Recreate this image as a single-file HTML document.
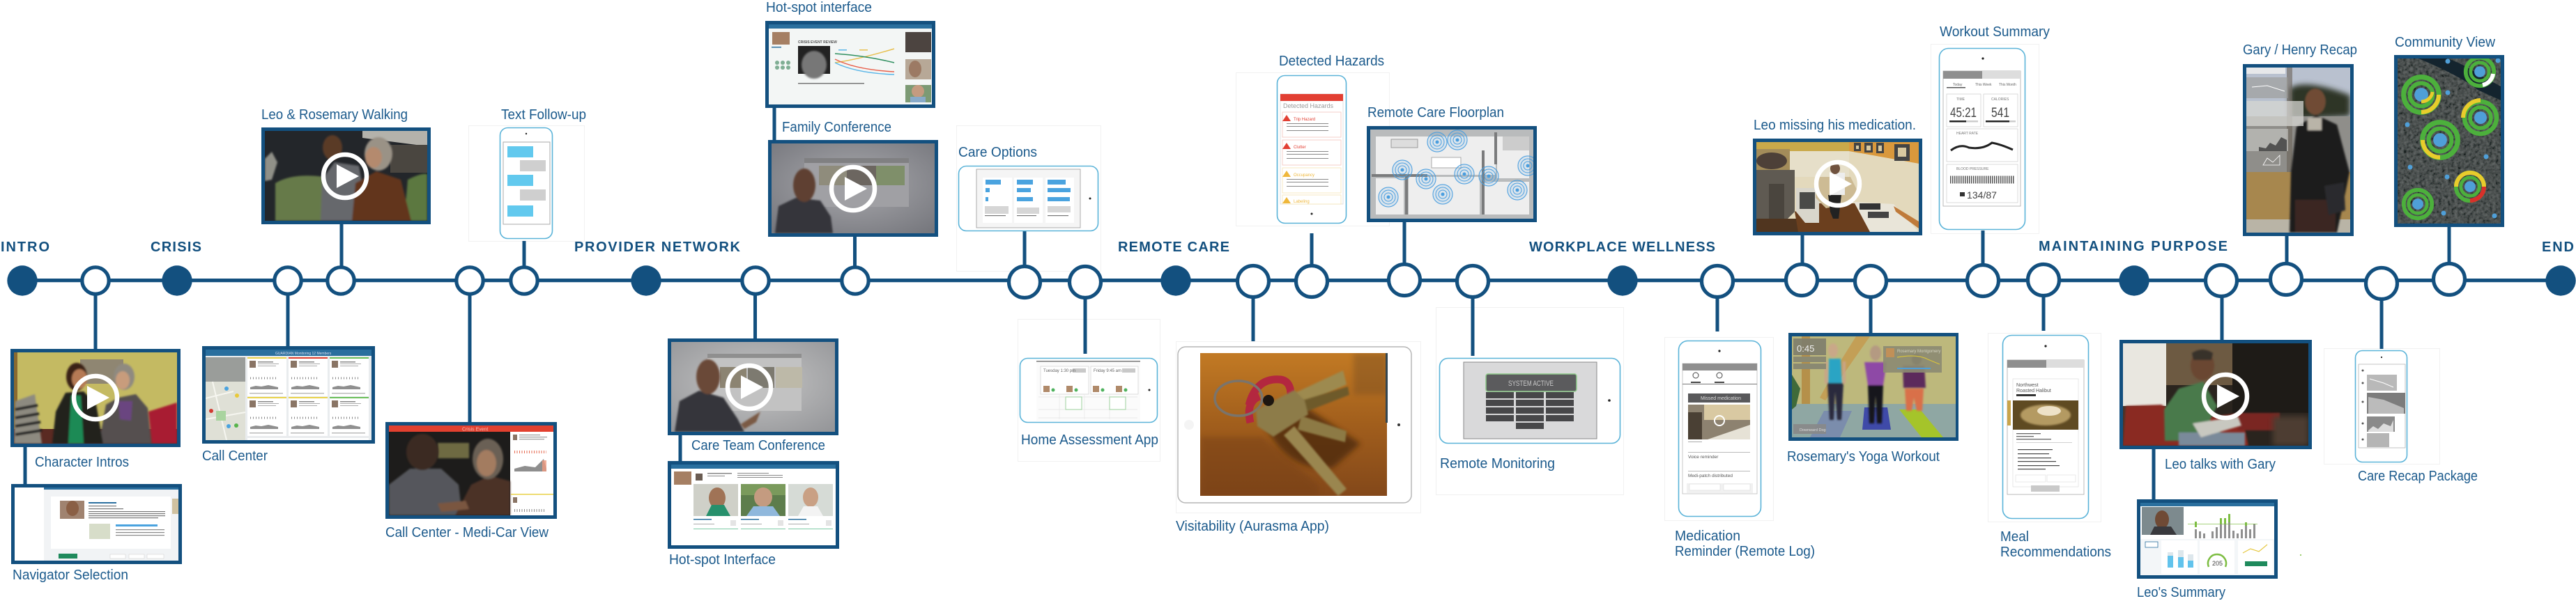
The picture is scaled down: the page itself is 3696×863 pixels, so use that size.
<!DOCTYPE html>
<html><head><meta charset="utf-8"><title>Timeline</title>
<style>
html,body{margin:0;padding:0;background:#fff;width:3696px;height:863px;overflow:hidden}
svg{display:block}
.l{font:20px "Liberation Sans",sans-serif;fill:#1b5a8c}
.h{font:bold 20px "Liberation Sans",sans-serif;fill:#13507f}
.t{font-family:"Liberation Sans",sans-serif}
</style></head><body>
<svg xmlns="http://www.w3.org/2000/svg" width="3696" height="863" viewBox="0 0 3696 863">
<defs>
<filter id="b1" x="-20%" y="-20%" width="140%" height="140%"><feGaussianBlur stdDeviation="1.2"/></filter>
<filter id="b3" x="-30%" y="-30%" width="160%" height="160%"><feGaussianBlur stdDeviation="4"/></filter>
<filter id="sat" x="0" y="0" width="100%" height="100%"><feTurbulence type="fractalNoise" baseFrequency=".22" numOctaves="3" seed="4"/><feColorMatrix type="matrix" values="1.4 0 0 0 -.28  1.4 0 0 0 -.26  1.4 0 0 0 -.26  0 0 0 0 1"/></filter>
<radialGradient id="gv" cx="50%" cy="45%" r="70%"><stop offset="0" stop-color="#a9a9ad"/><stop offset="1" stop-color="#77787e"/></radialGradient>
<radialGradient id="gv2" cx="50%" cy="45%" r="70%"><stop offset="0" stop-color="#c6c6c6"/><stop offset="1" stop-color="#96979a"/></radialGradient>
<linearGradient id="wood" x1="0" y1="0" x2="0" y2="1"><stop offset="0" stop-color="#c27a24"/><stop offset=".5" stop-color="#a15e1c"/><stop offset="1" stop-color="#83481a"/></linearGradient>
<g id="play"><circle r="31" fill="none" stroke="#fff" stroke-width="6.5"/><path d="M-12,-17 L20,0 L-12,17Z" fill="#fff"/></g>
<g id="card">
<rect width="56" height="54" fill="#fff"/>
<rect x="3" y="3" width="9" height="10" fill="#8a7565"/>
<rect x="15" y="4" width="22" height="1.5" fill="#888"/><rect x="15" y="7" width="30" height="1" fill="#aaa"/><rect x="15" y="10" width="26" height="1" fill="#aaa"/>
<path d="M4,28 H44" stroke="#888" stroke-width="3" stroke-dasharray="1 3"/>
<path d="M4,41 L12,39 L20,40 L30,38 L44,41 L44,44 L4,44Z" fill="#8f8f8f"/>
<rect x="3" y="49" width="48" height="1.5" fill="#bbb"/>
</g>
<g id="rings"><circle r="23" fill="none" stroke="#4cb03c" stroke-width="6.5"/><circle r="15" fill="none" stroke="#4cb03c" stroke-width="5.5"/><circle r="9" fill="#4f9fd8"/></g>
<g id="sp"><circle r="14" fill="none" stroke="#4a9fe0" stroke-width="1"/><circle r="10" fill="none" stroke="#4a9fe0" stroke-width="1"/><circle r="6" fill="none" stroke="#4a9fe0" stroke-width="1"/><circle r="2.5" fill="#4a9fe0"/><circle r="15" fill="#4a9fe0" opacity=".12"/></g>
</defs>

<!-- faint boxes -->
<g fill="none" stroke="#f1f1f1" stroke-width="1">
<rect x="672.5" y="180.5" width="166" height="166"/>
<rect x="1372.5" y="180.5" width="207" height="209"/>
<rect x="1460.5" y="458.5" width="204" height="204"/>
<rect x="1687.5" y="490.5" width="351" height="246"/>
<rect x="1773.5" y="104.5" width="220" height="220"/>
<rect x="2060.5" y="441.5" width="269" height="269"/>
<rect x="2388.5" y="484.5" width="156" height="263"/>
<rect x="2770.5" y="63.5" width="155" height="272"/>
<rect x="2852.5" y="478.5" width="162" height="271"/>
<rect x="3334.5" y="500.5" width="166" height="166"/>
</g>

<!-- timeline line and connectors -->
<g fill="#13507f">
<rect x="32" y="400" width="3630" height="5.2"/>
<rect x="134.5" y="403" width="5" height="100"/>
<rect x="33.5" y="640" width="5" height="57"/>
<rect x="410.5" y="403" width="5" height="96"/>
<rect x="487.5" y="320" width="5" height="85"/>
<rect x="671.5" y="403" width="5" height="205"/>
<rect x="749.5" y="346" width="5" height="57"/>
<rect x="1081" y="403" width="5" height="85"/>
<rect x="973.5" y="623" width="5" height="41"/>
<rect x="1224" y="338" width="5" height="65"/>
<rect x="1108.5" y="153" width="5" height="50"/>
<rect x="1467.5" y="332" width="5" height="71"/>
<rect x="1554.5" y="403" width="5" height="105"/>
<rect x="1795.5" y="403" width="5" height="87"/>
<rect x="1879.5" y="335" width="5" height="68"/>
<rect x="2012.5" y="317" width="5" height="86"/>
<rect x="2110.5" y="403" width="5" height="108"/>
<rect x="2461.5" y="403" width="5" height="73"/>
<rect x="2583.5" y="336" width="5" height="67"/>
<rect x="2681.5" y="403" width="5" height="78"/>
<rect x="2842.5" y="331" width="5" height="72"/>
<rect x="2929.5" y="403" width="5" height="72"/>
<rect x="3185.5" y="403" width="5" height="87"/>
<rect x="3087.5" y="643" width="5" height="76"/>
<rect x="3278.5" y="337" width="5" height="66"/>
<rect x="3511.5" y="324" width="5" height="79"/>
<rect x="3414.5" y="403" width="5" height="98"/>
</g>

<!-- nodes -->
<g fill="#13507f">
<circle cx="32" cy="403" r="21.7"/><circle cx="254" cy="403" r="21.7"/><circle cx="927" cy="403" r="21.7"/><circle cx="1687" cy="403" r="21.7"/><circle cx="2328" cy="403" r="21.7"/><circle cx="3062" cy="403" r="21.7"/><circle cx="3674" cy="403" r="21.7"/>
</g>
<g fill="#fff" stroke="#13507f" stroke-width="5.2">
<circle cx="137" cy="403" r="19.2"/><circle cx="413" cy="403" r="19.2"/><circle cx="489" cy="403" r="19.2"/><circle cx="674" cy="403" r="19.2"/><circle cx="752" cy="403" r="19.2"/><circle cx="1084" cy="403" r="19.2"/><circle cx="1227" cy="403" r="19.2"/>
<circle cx="1470" cy="405" r="22.5"/><circle cx="1557" cy="405" r="22.5"/><circle cx="1798" cy="404" r="22.5"/><circle cx="1882" cy="404" r="22.5"/><circle cx="2015" cy="402" r="22.5"/><circle cx="2113" cy="404" r="22.5"/><circle cx="2464" cy="404" r="22.5"/><circle cx="2585" cy="402" r="22.5"/><circle cx="2684" cy="404" r="22.5"/><circle cx="2845" cy="403" r="22.5"/><circle cx="2932" cy="402" r="22.5"/><circle cx="3187" cy="403" r="22.5"/><circle cx="3280" cy="401" r="22.5"/><circle cx="3417" cy="407" r="22.5"/><circle cx="3514" cy="401" r="22.5"/>
</g>

<!-- section headings -->
<text class="h" x="1" y="361" textLength="70" lengthAdjust="spacing">INTRO</text>
<text class="h" x="216" y="361" textLength="73" lengthAdjust="spacing">CRISIS</text>
<text class="h" x="824" y="361" textLength="238" lengthAdjust="spacing">PROVIDER NETWORK</text>
<text class="h" x="1604" y="361" textLength="160" lengthAdjust="spacing">REMOTE CARE</text>
<text class="h" x="2194" y="361" textLength="267" lengthAdjust="spacing">WORKPLACE WELLNESS</text>
<text class="h" x="2925" y="360" textLength="271" lengthAdjust="spacing">MAINTAINING PURPOSE</text>
<text class="h" x="3647" y="361" textLength="46" lengthAdjust="spacing">END</text>

<!-- labels -->
<g class="l">
<text class="l" x="375" y="171" textLength="210" lengthAdjust="spacingAndGlyphs">Leo &amp; Rosemary Walking</text>
<text class="l" x="719" y="171" textLength="122" lengthAdjust="spacingAndGlyphs">Text Follow-up</text>
<text class="l" x="50" y="670" textLength="135" lengthAdjust="spacingAndGlyphs">Character Intros</text>
<text class="l" x="18" y="832" textLength="166" lengthAdjust="spacingAndGlyphs">Navigator Selection</text>
<text class="l" x="290" y="661" textLength="94" lengthAdjust="spacingAndGlyphs">Call Center</text>
<text class="l" x="553" y="771" textLength="234" lengthAdjust="spacingAndGlyphs">Call Center - Medi-Car View</text>
<text class="l" x="1099" y="17" textLength="152" lengthAdjust="spacingAndGlyphs">Hot-spot interface</text>
<text class="l" x="1122" y="189" textLength="157" lengthAdjust="spacingAndGlyphs">Family Conference</text>
<text class="l" x="1375" y="225" textLength="113" lengthAdjust="spacingAndGlyphs">Care Options</text>
<text class="l" x="992" y="646" textLength="192" lengthAdjust="spacingAndGlyphs">Care Team Conference</text>
<text class="l" x="960" y="810" textLength="153" lengthAdjust="spacingAndGlyphs">Hot-spot Interface</text>
<text class="l" x="1465" y="638" textLength="197" lengthAdjust="spacingAndGlyphs">Home Assessment App</text>
<text class="l" x="1687" y="762" textLength="220" lengthAdjust="spacingAndGlyphs">Visitability (Aurasma App)</text>
<text class="l" x="1835" y="94" textLength="151" lengthAdjust="spacingAndGlyphs">Detected Hazards</text>
<text class="l" x="1962" y="168" textLength="196" lengthAdjust="spacingAndGlyphs">Remote Care Floorplan</text>
<text class="l" x="2066" y="672" textLength="165" lengthAdjust="spacingAndGlyphs">Remote Monitoring</text>
<text class="l" x="2403" y="776" textLength="94" lengthAdjust="spacingAndGlyphs">Medication</text>
<text class="l" x="2403" y="798" textLength="201" lengthAdjust="spacingAndGlyphs">Reminder (Remote Log)</text>
<text class="l" x="2564" y="662" textLength="219" lengthAdjust="spacingAndGlyphs">Rosemary's Yoga Workout</text>
<text class="l" x="2516" y="186" textLength="233" lengthAdjust="spacingAndGlyphs">Leo missing his medication.</text>
<text class="l" x="2783" y="52" textLength="158" lengthAdjust="spacingAndGlyphs">Workout Summary</text>
<text class="l" x="2870" y="777" textLength="41" lengthAdjust="spacingAndGlyphs">Meal</text>
<text class="l" x="2870" y="799" textLength="159" lengthAdjust="spacingAndGlyphs">Recommendations</text>
<text class="l" x="3106" y="673" textLength="159" lengthAdjust="spacingAndGlyphs">Leo talks with Gary</text>
<text class="l" x="3066" y="857" textLength="127" lengthAdjust="spacingAndGlyphs">Leo's Summary</text>
<text class="l" x="3218" y="78" textLength="164" lengthAdjust="spacingAndGlyphs">Gary / Henry Recap</text>
<text class="l" x="3436" y="67" textLength="144" lengthAdjust="spacingAndGlyphs">Community View</text>
<text class="l" x="3383" y="690" textLength="172" lengthAdjust="spacingAndGlyphs">Care Recap Package</text>
</g>

<!-- Character Intros -->
<rect x="15" y="501" width="244" height="141" fill="#13507f"/>
<svg x="20" y="506" width="234" height="131" viewBox="0 0 234 131">
<rect width="234" height="131" fill="#c4ba62"/>
<rect width="5" height="131" fill="#8a6a30"/>
<rect x="95" y="10" width="62" height="35" fill="#8f8672"/>
<rect y="110" width="234" height="21" fill="#5a2a22"/>
<g filter="url(#b1)">
<path d="M150,131 L122,131 L132,75 L150,65 L175,60 L192,80 L197,131Z" fill="#54504f"/>
<path d="M150,70 L170,70 L168,98 L152,96Z" fill="#6b4480"/>
<path d="M55,131 L60,85 L74,58 L100,56 L118,75 L128,131Z" fill="#22201f"/>
<path d="M82,62 L96,62 L100,131 L78,131Z" fill="#1f8a55"/>
<ellipse cx="90" cy="35" rx="15" ry="20" fill="#3a2015"/>
<ellipse cx="94" cy="38" rx="11" ry="14" fill="#b57a55"/>
<ellipse cx="158" cy="35" rx="15" ry="19" fill="#8f8a80"/>
<ellipse cx="156" cy="40" rx="10" ry="13" fill="#c89c7c"/>
<path d="M193,85 L234,72 L234,131 L198,131Z" fill="#a81c30"/>
<path d="M2,70 L30,60 L40,131 L0,131Z" fill="#8d8a80"/>
<path d="M2,82 L34,76 M2,94 L36,88 M2,106 L38,100 M2,118 L40,112" stroke="#1a1a1a" stroke-width="4"/>
</g>
<use href="#play" x="117" y="65"/>
</svg>

<!-- Navigator Selection -->
<rect x="16" y="695" width="245" height="115" fill="#13507f"/>
<svg x="21" y="700" width="235" height="105" viewBox="0 0 235 105">
<rect width="235" height="105" fill="#f1f3f5"/>
<rect width="235" height="3" fill="#2b6f9f"/>
<rect x="0" y="0" width="42" height="105" fill="#fff"/>
<rect x="52" y="13" width="172" height="75" fill="#fff"/>
<rect x="65" y="19" width="35" height="26" fill="#a08370"/><ellipse cx="83" cy="30" rx="9" ry="11" fill="#8a5f45"/>
<rect x="106" y="21" width="40" height="2" fill="#2b6f9f"/>
<g fill="#777"><rect x="106" y="26" width="40" height="1.2"/><rect x="106" y="30" width="50" height="1.2"/><rect x="106" y="34" width="110" height="1.2"/><rect x="106" y="37" width="110" height="1.2"/><rect x="106" y="40" width="110" height="1.2"/><rect x="106" y="43" width="100" height="1.2"/></g>
<rect x="107" y="52" width="30" height="22" fill="#d7ddc9"/>
<rect x="145" y="53" width="60" height="3" fill="#4aa3df"/>
<rect x="145" y="60" width="70" height="1.2" fill="#888"/><rect x="145" y="64" width="70" height="1.2" fill="#888"/><rect x="145" y="68" width="70" height="1.2" fill="#888"/>
<rect x="226" y="16" width="9" height="22" fill="#cfc1a0"/>
<rect x="63" y="95" width="27" height="7" fill="#1f8a5c"/>
<rect x="137" y="96" width="22" height="6" fill="#fff" stroke="#ccc" stroke-width=".5"/><rect x="164" y="96" width="22" height="6" fill="#fff" stroke="#ccc" stroke-width=".5"/><rect x="190" y="96" width="24" height="6" fill="#fff" stroke="#ccc" stroke-width=".5"/>
</svg>

<!-- Leo & Rosemary Walking -->
<rect x="375" y="183" width="243" height="139" fill="#13507f"/>
<svg x="380" y="188" width="233" height="129" viewBox="0 0 233 129">
<rect width="233" height="129" fill="#23262a"/>
<path d="M140,0 H233 V22 L140,10Z" fill="#b4b2ab"/>
<rect x="180" y="20" width="53" height="40" fill="#4a4640"/>
<g filter="url(#b1)">
<path d="M15,129 V75 Q40,60 85,66 L85,129Z" fill="#667a48"/>
<path d="M205,70 Q225,60 233,62 V129 H200Z" fill="#5c7840"/>
<path d="M0,40 L10,30 L18,45 L10,70 L0,72Z" fill="#909088"/>
<path d="M80,129 L82,70 L100,45 L135,50 L142,90 L135,129Z" fill="#66676c"/>
<ellipse cx="97" cy="24" rx="14" ry="18" fill="#5a3a28"/>
<path d="M125,129 L130,75 L160,58 L195,70 L210,129Z" fill="#62341f"/>
<ellipse cx="163" cy="33" rx="20" ry="24" fill="#9a9286"/>
<ellipse cx="156" cy="38" rx="12" ry="15" fill="#b48a6e"/>
</g>
<use href="#play" x="115" y="65"/>
</svg>

<!-- Text Follow-up phone -->
<rect x="717.5" y="183.5" width="75" height="159" rx="11" fill="#fff" stroke="#5ab3d8" stroke-width="1.6"/>
<circle cx="755" cy="192" r="1.2" fill="#222"/>
<rect x="722" y="204" width="67" height="118" fill="#fff" stroke="#aaa" stroke-width="1"/>
<g fill="#62c9ee"><rect x="728" y="210" width="37" height="16"/><rect x="728" y="251" width="37" height="16"/><rect x="728" y="295" width="37" height="16"/></g>
<g fill="#cfcfcf"><rect x="746" y="230" width="37" height="16"/><rect x="746" y="272" width="37" height="16"/></g>

<!-- Call Center -->
<rect x="290" y="497" width="248" height="140" fill="#13507f"/>
<svg x="295" y="502" width="238" height="130" viewBox="0 0 238 130">
<rect width="238" height="130" fill="#e9ecee"/>
<rect width="238" height="9" fill="#2a6f9e"/>
<text class="t" x="100" y="7" font-size="5" fill="#dde">GUARDIAN  Monitoring 12 Members</text>
<rect x="0" y="11" width="57" height="35" fill="#9a9d9a"/>
<rect x="0" y="46" width="57" height="84" fill="#dfe0d6"/>
<path d="M0,70 L40,60 M10,46 L30,130 M0,100 L57,90" stroke="#f6f6f0" stroke-width="2"/>
<rect x="15" y="88" width="14" height="14" fill="#a9d49f"/>
<circle cx="30" cy="56" r="3" fill="#4aa3df"/><circle cx="45" cy="66" r="3" fill="#e8c93a"/><circle cx="8" cy="88" r="3" fill="#d23a30"/><circle cx="33" cy="110" r="3" fill="#4aa3df"/><circle cx="44" cy="109" r="3" fill="#57b44b"/>
<use href="#card" x="60" y="13"/><use href="#card" x="119" y="13"/><use href="#card" x="178" y="13"/>
<use href="#card" x="60" y="70"/><use href="#card" x="119" y="70"/><use href="#card" x="178" y="70"/>
<rect x="60" y="11" width="56" height="2" fill="#e9d24a"/><rect x="119" y="11" width="56" height="2" fill="#e2402f"/><rect x="178" y="11" width="56" height="2" fill="#6bbf59"/>
<rect x="60" y="68" width="56" height="2" fill="#e9d24a"/><rect x="119" y="68" width="56" height="2" fill="#e9d24a"/><rect x="178" y="68" width="56" height="2" fill="#6bbf59"/>
<rect x="60" y="127" width="174" height="3" fill="#fff"/>
</svg>

<!-- Medi-Car -->
<rect x="553" y="606" width="246" height="139" fill="#13507f"/>
<svg x="558" y="611" width="236" height="129" viewBox="0 0 236 129">
<rect width="236" height="129" fill="#fff"/>
<rect width="236" height="9" fill="#e2402f"/>
<text class="t" x="105" y="7.5" font-size="7" fill="#f5c0b8">Crisis Event</text>
<rect y="9" width="174" height="120" fill="#1d1c1b"/>
<rect x="70" y="25" width="45" height="22" fill="#6e6a42" filter="url(#b1)"/>
<g filter="url(#b1)">
<path d="M0,129 L0,85 L30,62 L75,62 L100,85 L105,129Z" fill="#55565b"/>
<ellipse cx="48" cy="38" rx="23" ry="26" fill="#3a2a22"/>
<path d="M95,129 L118,85 L145,72 L174,80 L174,129Z" fill="#4c3027"/>
<ellipse cx="142" cy="48" rx="22" ry="29" fill="#6a6054"/>
<ellipse cx="140" cy="54" rx="14" ry="19" fill="#a37b60"/>
<path d="M70,112 L110,108 L115,120 L75,124Z" fill="#7a5640"/>
</g>
<rect x="178" y="13" width="6" height="8" fill="#8a7565"/>
<g fill="#999"><rect x="187" y="13" width="30" height="1.2"/><rect x="187" y="16" width="40" height="1.2"/><rect x="187" y="19" width="36" height="1.2"/></g>
<path d="M180,38 H226" stroke="#e66a50" stroke-width="4" stroke-dasharray="1 2.5"/>
<path d="M180,62 L195,58 L210,60 L222,48 L226,62 V66 H180Z" fill="#8e8e8e"/>
<rect x="220" y="50" width="6" height="16" fill="#ef9a80" opacity=".8"/>
<rect x="175" y="98" width="61" height="1.5" fill="#e9d24a"/>
<rect x="178" y="103" width="6" height="8" fill="#8a7565"/>
<path d="M180,122 H224" stroke="#888" stroke-width="4" stroke-dasharray="1 2.5"/>
</svg>

<!-- Hot-spot interface (top) -->
<rect x="1098" y="30" width="244" height="125" fill="#13507f"/>
<svg x="1103" y="35" width="234" height="115" viewBox="0 0 234 115">
<rect width="234" height="115" fill="#f3f6f5"/>
<rect width="234" height="6" fill="#2a6f9e"/>
<rect x="5" y="11" width="25" height="18" fill="#a57f63"/>
<rect x="42" y="31" width="46" height="40" fill="#222"/>
<ellipse cx="65" cy="58" rx="18" ry="20" fill="#777" filter="url(#b1)"/>
<text class="t" x="42" y="27" font-size="5" fill="#555" font-weight="bold">CRISIS EVENT REVIEW</text>
<path d="M95,55 Q130,50 180,35" fill="none" stroke="#e8c050" stroke-width="1.5"/>
<path d="M95,42 Q140,45 180,55" fill="none" stroke="#2f8f5f" stroke-width="1.5"/>
<path d="M95,50 Q125,65 180,68" fill="none" stroke="#e8604c" stroke-width="1.5"/>
<path d="M95,55 Q125,70 180,72" fill="none" stroke="#59b6e8" stroke-width="1.5"/>
<rect x="100" y="36" width="12" height="1.5" fill="#59b6e8"/><rect x="130" y="36" width="12" height="1.5" fill="#e8c050"/>
<rect x="42" y="84" width="95" height="1.5" fill="#777"/>
<g fill="#7fae94"><circle cx="12" cy="55" r="3"/><circle cx="20" cy="55" r="3"/><circle cx="28" cy="55" r="3"/><circle cx="12" cy="62" r="3"/><circle cx="20" cy="62" r="3"/><circle cx="28" cy="62" r="3"/></g>
<rect x="4" y="32" width="14" height="1.5" fill="#2a6f9e"/>
<rect x="196" y="11" width="37" height="29" fill="#4c4440"/>
<rect x="196" y="50" width="37" height="29" fill="#b7a897"/><ellipse cx="210" cy="64" rx="9" ry="12" fill="#9c7a64"/>
<rect x="196" y="87" width="37" height="25" fill="#7c9a74"/><ellipse cx="214" cy="96" rx="9" ry="9" fill="#c49b80"/><rect x="203" y="104" width="22" height="8" fill="#88aac9"/>
</svg>

<!-- Family Conference -->
<rect x="1102" y="201" width="244" height="139" fill="#13507f"/>
<svg x="1107" y="206" width="234" height="129" viewBox="0 0 234 129">
<rect width="234" height="129" fill="url(#gv)"/>
<rect x="47" y="21" width="150" height="70" fill="#a0a0a4"/>
<rect x="47" y="21" width="150" height="7" fill="#808082"/>
<rect x="68" y="32" width="40" height="28" fill="#8f8c7c"/><rect x="108" y="32" width="42" height="28" fill="#6c6660"/><rect x="150" y="32" width="41" height="28" fill="#7f8f6a"/>
<g filter="url(#b1)">
<path d="M5,129 L10,90 L35,78 L70,82 L85,105 L88,129Z" fill="#35353a"/>
<ellipse cx="47" cy="60" rx="16" ry="24" fill="#5e4030"/>
</g>
<use href="#play" x="117" y="65"/>
</svg>

<!-- Care Options phone -->
<rect x="1375.5" y="238.5" width="200" height="93" rx="11" fill="#fff" stroke="#5ab3d8" stroke-width="1.6"/>
<rect x="1401" y="243" width="149" height="84" fill="#f5f5f5" stroke="#999" stroke-width=".8"/>
<circle cx="1564" cy="285" r="1.5" fill="#222"/>
<g fill="#fff"><rect x="1410" y="255" width="42" height="65"/><rect x="1455" y="255" width="41" height="65"/><rect x="1500" y="255" width="41" height="65"/></g>
<g fill="#4aa3df"><rect x="1414" y="258" width="22" height="7"/><rect x="1414" y="270" width="6" height="6"/><rect x="1414" y="283" width="4" height="6"/>
<rect x="1459" y="258" width="23" height="7"/><rect x="1459" y="270" width="20" height="6"/><rect x="1459" y="283" width="23" height="6"/>
<rect x="1503" y="258" width="26" height="7"/><rect x="1503" y="270" width="33" height="6"/><rect x="1503" y="283" width="32" height="6"/></g>
<g fill="#d6d6d6"><rect x="1413" y="296" width="34" height="11"/><rect x="1459" y="298" width="32" height="9"/><rect x="1503" y="296" width="33" height="9"/></g>
<g fill="#777"><rect x="1413" y="309" width="30" height="1.2"/><rect x="1459" y="309" width="28" height="1.2"/><rect x="1503" y="309" width="30" height="1.2"/></g>

<!-- Care Team Conference -->
<rect x="958" y="486" width="245" height="139" fill="#13507f"/>
<svg x="963" y="491" width="235" height="129" viewBox="0 0 235 129">
<rect width="235" height="129" fill="url(#gv2)"/>
<rect x="52" y="17" width="135" height="82" fill="#c2c2c2"/>
<rect x="52" y="17" width="135" height="6" fill="#8f8f8f"/>
<rect x="70" y="36" width="38" height="30" fill="#8c8472"/><rect x="110" y="36" width="38" height="30" fill="#7d7a70"/><rect x="150" y="36" width="38" height="30" fill="#bdb9a8"/>
<g filter="url(#b1)">
<path d="M5,129 L12,85 L40,70 L75,80 L95,110 L105,129Z" fill="#36363a"/>
<ellipse cx="53" cy="50" rx="17" ry="25" fill="#6a4a38"/>
<path d="M100,118 L128,100 L122,115 L105,125Z" fill="#7a5a45"/>
</g>
<use href="#play" x="112" y="65"/>
</svg>

<!-- Hot-spot Interface (bottom) -->
<rect x="958" y="662" width="246" height="126" fill="#13507f"/>
<svg x="963" y="667" width="236" height="116" viewBox="0 0 236 116">
<rect width="236" height="116" fill="#fff"/>
<rect width="236" height="6" fill="#2a6f9e"/>
<rect x="4" y="10" width="25" height="19" fill="#a57f63"/>
<rect x="35" y="13" width="10" height="10" fill="#6a5c52"/>
<g fill="#888"><rect x="52" y="12" width="35" height="1.5"/><rect x="52" y="16" width="25" height="1"/><rect x="95" y="12" width="45" height="1"/><rect x="95" y="15" width="65" height="1"/><rect x="95" y="18" width="65" height="1"/></g>
<rect x="32" y="28" width="64" height="46" fill="#cfd0c8"/><ellipse cx="66" cy="48" rx="12" ry="15" fill="#a07356"/><path d="M50,74 L58,58 L76,58 L85,74Z" fill="#27906c"/>
<rect x="100" y="28" width="64" height="46" fill="#5d7d4c"/><rect x="100" y="28" width="64" height="16" fill="#7a9a5c"/><ellipse cx="132" cy="47" rx="13" ry="14" fill="#c49b80"/><path d="M108,74 L118,60 L146,60 L156,74Z" fill="#90b8dc"/>
<rect x="168" y="28" width="64" height="46" fill="#d6dbd6"/><ellipse cx="200" cy="47" rx="11" ry="14" fill="#c9a084"/><path d="M182,74 L190,60 L210,60 L218,74Z" fill="#f3f3f3"/>
<g fill="#2a6f9e"><rect x="32" y="78" width="26" height="1.5"/><rect x="100" y="78" width="26" height="1.5"/><rect x="168" y="78" width="26" height="1.5"/></g>
<g fill="#aaa"><rect x="32" y="85" width="30" height="1"/><rect x="100" y="85" width="30" height="1"/><rect x="168" y="85" width="30" height="1"/></g>
<g fill="#e4e4e4"><rect x="85" y="80" width="8" height="8"/><rect x="153" y="80" width="8" height="8"/><rect x="222" y="80" width="8" height="8"/></g>
<g fill="#7cc9a4"><rect x="32" y="92" width="64" height="1"/><rect x="100" y="92" width="64" height="1"/><rect x="168" y="92" width="64" height="1"/></g>
</svg>

<!-- Home Assessment phone -->
<rect x="1463.5" y="514.5" width="197" height="92" rx="11" fill="#fff" stroke="#5ab3d8" stroke-width="1.6"/>
<circle cx="1649" cy="560" r="1.5" fill="#222"/>
<rect x="1487" y="518" width="149" height="86" fill="#fbfbfb"/>
<rect x="1487" y="518" width="149" height="1.5" fill="#777"/>
<g fill="#fff" stroke="#d0d0d0" stroke-width=".7"><rect x="1493" y="526" width="69" height="40"/><rect x="1565" y="526" width="68" height="40"/></g>
<g fill="#c9c9c9"><rect x="1539" y="529" width="19" height="6"/><rect x="1610" y="529" width="19" height="6"/></g>
<text class="t" x="1497" y="534" font-size="6" fill="#666">Tuesday  1:30 pm</text>
<text class="t" x="1569" y="534" font-size="6" fill="#666">Friday  9:45 am</text>
<g fill="#b08a6a"><rect x="1497" y="554" width="9" height="9"/><rect x="1530" y="554" width="9" height="9"/><rect x="1568" y="554" width="9" height="9"/><rect x="1601" y="554" width="9" height="9"/></g>
<g fill="#4fb25e"><circle cx="1511" cy="560" r="2.5"/><circle cx="1544" cy="560" r="2.5"/><circle cx="1582" cy="560" r="2.5"/><circle cx="1615" cy="560" r="2.5"/></g>
<g stroke="#e5e5e5" stroke-width=".7" fill="none"><path d="M1490,570 H1632 M1490,588 H1632 M1490,600 H1632 M1520,566 V602 M1556,566 V602 M1592,566 V602"/></g>
<g fill="#fff" stroke="#9cd29c" stroke-width="1"><rect x="1529" y="570" width="23" height="18"/><rect x="1592" y="570" width="23" height="18"/></g>

<!-- iPad keys -->
<rect x="1690" y="498" width="335" height="224" rx="11" fill="#fff" stroke="#b5b5b5" stroke-width="1.5"/>
<circle cx="2007" cy="610" r="2" fill="#333"/>
<circle cx="1706" cy="610" r="7" fill="#f4f4f4"/>
<svg x="1722" y="507" width="268" height="205" viewBox="0 0 268 205">
<rect width="268" height="205" fill="url(#wood)"/>
<path d="M0,120 L90,120 L170,190 L170,205 L0,205Z" fill="#774015" opacity=".5" filter="url(#b3)"/>
<path d="M90,95 Q120,170 190,165 L230,130 L140,70Z" fill="#4d2a0c" opacity=".8" filter="url(#b3)"/>
<rect x="220" y="0" width="48" height="60" fill="#7a5024" opacity=".45" filter="url(#b3)"/>
<path d="M130,60 L205,25 L210,45 L145,75Z" fill="#9d8a50" filter="url(#b1)"/>
<path d="M140,70 L212,48 L214,60 L150,85Z" fill="#6e5a2a" filter="url(#b1)"/>
<path d="M145,90 L210,112 L208,128 L140,110Z" fill="#8d7a44" filter="url(#b1)"/>
<path d="M70,75 Q80,35 115,38 Q130,40 130,60" fill="none" stroke="#b3273f" stroke-width="11"/>
<path d="M72,100 Q65,70 85,62" fill="none" stroke="#b3273f" stroke-width="11"/>
<ellipse cx="55" cy="65" rx="34" ry="25" fill="none" stroke="#7a746c" stroke-width="3.5"/>
<path d="M80,82 L135,53 L150,68 L155,88 L105,120 L82,105Z" fill="#8d7c4a" filter="url(#b1)"/>
<circle cx="98" cy="68" r="8" fill="#1d1610"/>
<path d="M135,105 L210,195 L198,205 L120,118Z" fill="#9a8650" filter="url(#b1)"/>
</svg>
<rect x="1988" y="507" width="3" height="100" fill="#33454f"/>

<!-- Detected Hazards phone -->
<rect x="1832.5" y="108.5" width="99" height="212" rx="11" fill="#fff" stroke="#5ab3d8" stroke-width="1.6"/>
<circle cx="1882" cy="307" r="1.5" fill="#222"/>
<rect x="1837" y="135" width="90" height="158" fill="#fff" stroke="#ccc" stroke-width=".6"/>
<rect x="1837" y="135" width="90" height="10" fill="#e23f33"/>
<text class="t" x="1841" y="155" font-size="9" fill="#999" textLength="72" lengthAdjust="spacingAndGlyphs">Detected Hazards</text>
<g fill="#fff" stroke="#f4c4bd" stroke-width=".8"><rect x="1840" y="161" width="84" height="36"/><rect x="1840" y="201" width="84" height="36"/></g>
<g fill="#fff" stroke="#f6e3b5" stroke-width=".8"><rect x="1840" y="241" width="84" height="36"/><rect x="1840" y="280" width="84" height="13"/></g>
<path d="M1846,165 L1852,174 L1840,174Z" fill="#e23f33"/><path d="M1846,205 L1852,214 L1840,214Z" fill="#e23f33"/><path d="M1846,245 L1852,254 L1840,254Z" fill="#efb73a"/><path d="M1846,283 L1852,292 L1840,292Z" fill="#efb73a"/>
<text class="t" x="1856" y="173" font-size="6" fill="#e23f33">Trip Hazard</text>
<text class="t" x="1856" y="213" font-size="6" fill="#e23f33">Clutter</text>
<text class="t" x="1856" y="253" font-size="6" fill="#efb73a">Occupancy</text>
<text class="t" x="1856" y="291" font-size="6" fill="#efb73a">Labeling</text>
<g fill="#888"><rect x="1846" y="177" width="60" height="1"/><rect x="1846" y="181" width="60" height="1"/><rect x="1846" y="187" width="60" height="1"/><rect x="1846" y="217" width="60" height="1"/><rect x="1846" y="221" width="60" height="1"/><rect x="1846" y="227" width="60" height="1"/><rect x="1846" y="257" width="60" height="1"/><rect x="1846" y="261" width="60" height="1"/><rect x="1846" y="267" width="60" height="1"/></g>

<!-- Remote Care Floorplan -->
<rect x="1961" y="181" width="244" height="138" fill="#13507f"/>
<svg x="1966" y="186" width="234" height="128" viewBox="0 0 234 128">
<rect width="234" height="128" fill="#b9bbbc"/>
<g fill="#eeeeee"><rect x="8" y="10" width="172" height="55"/><rect x="182" y="10" width="46" height="60"/><rect x="8" y="70" width="40" height="52"/><rect x="55" y="68" width="102" height="54"/><rect x="162" y="75" width="66" height="47"/></g>
<g fill="#7a7b7c"><rect x="2" y="64" width="80" height="4"/><rect x="160" y="30" width="4" height="92"/><rect x="50" y="64" width="4" height="58"/><rect x="178" y="4" width="4" height="46"/></g>
<rect x="30" y="14" width="38" height="12" fill="#ddd" stroke="#999"/>
<rect x="88" y="40" width="42" height="15" fill="#fff" stroke="#aaa"/>
<rect x="190" y="10" width="38" height="20" fill="#ccc"/>
<use href="#sp" x="96" y="18"/><use href="#sp" x="125" y="15"/><use href="#sp" x="46" y="58"/><use href="#sp" x="80" y="71"/><use href="#sp" x="135" y="64"/><use href="#sp" x="170" y="67"/><use href="#sp" x="104" y="93"/><use href="#sp" x="211" y="87"/><use href="#sp" x="26" y="97"/><use href="#sp" x="226" y="52"/>
</svg>

<!-- Remote Monitoring phone -->
<rect x="2065.5" y="514.5" width="259" height="122" rx="12" fill="#fff" stroke="#5ab3d8" stroke-width="1.6"/>
<circle cx="2309" cy="575" r="1.8" fill="#222"/>
<rect x="2100" y="520" width="191" height="110" fill="#d9d9da" stroke="#888" stroke-width="1"/>
<rect x="2132" y="537" width="130" height="25" rx="3" fill="#5b5b5d" stroke="#8ec98a" stroke-width="1.5"/>
<text class="t" x="2164" y="554" font-size="11" fill="#c9c9c9" textLength="65" lengthAdjust="spacingAndGlyphs">SYSTEM ACTIVE</text>
<g fill="#474749">
<rect x="2132" y="563" width="40" height="9"/><rect x="2175" y="563" width="40" height="9"/><rect x="2218" y="563" width="40" height="9"/>
<rect x="2132" y="574" width="40" height="9"/><rect x="2175" y="574" width="40" height="9"/><rect x="2218" y="574" width="40" height="9"/>
<rect x="2132" y="585" width="40" height="9"/><rect x="2175" y="585" width="40" height="9"/><rect x="2218" y="585" width="40" height="9"/>
<rect x="2132" y="596" width="40" height="9"/><rect x="2175" y="596" width="40" height="9"/><rect x="2218" y="596" width="40" height="9"/>
<rect x="2175" y="607" width="40" height="9"/></g>

<!-- Medication phone -->
<rect x="2408.5" y="489.5" width="118" height="252" rx="13" fill="#fff" stroke="#5ab3d8" stroke-width="1.6"/>
<circle cx="2467" cy="504" r="1.6" fill="#222"/>
<rect x="2414" y="522" width="107" height="187" fill="#fff" stroke="#bbb" stroke-width=".8"/>
<rect x="2414" y="522" width="107" height="10" fill="#8f8f8f"/>
<rect x="2414" y="551" width="107" height="1" fill="#777"/>
<circle cx="2433" cy="539" r="4" fill="#fff" stroke="#444"/><circle cx="2467" cy="539" r="4" fill="#fff" stroke="#444"/><path d="M2426,549 H2440 M2460,549 H2474" stroke="#444" stroke-width="2"/>
<rect x="2422" y="565" width="89" height="13" fill="#59595b"/>
<text class="t" x="2440" y="574" font-size="7" fill="#ddd">Missed medication</text>
<rect x="2422" y="581" width="89" height="50" fill="#8d8270"/>
<rect x="2445" y="581" width="66" height="22" fill="#d9c9a2"/><path d="M2450,631 L2511,610 V631Z" fill="#e6e2d6"/><rect x="2422" y="592" width="20" height="39" fill="#4a4034"/>
<circle cx="2467" cy="604" r="7" fill="none" stroke="#fff" stroke-width="2"/>
<g fill="#aaa"><rect x="2422" y="634" width="20" height="1"/><rect x="2422" y="649" width="89" height=".8"/><rect x="2422" y="676" width="89" height=".8"/></g>
<text class="t" x="2422" y="658" font-size="6.5" fill="#555">Voice reminder</text>
<text class="t" x="2422" y="685" font-size="6.5" fill="#555">Medi-patch distributed</text>
<rect x="2420" y="694" width="95" height="14" fill="#f1f1f1"/>
<rect x="2424" y="695" width="44" height="9" fill="#fff" stroke="#ddd" stroke-width=".6"/><rect x="2473" y="695" width="38" height="9" fill="#fff" stroke="#ddd" stroke-width=".6"/>

<!-- Yoga -->
<rect x="2566" y="478" width="244" height="155" fill="#13507f"/>
<svg x="2571" y="483" width="235" height="145" viewBox="0 0 235 145">
<rect width="235" height="145" fill="#bdb87c"/>
<rect y="97" width="235" height="48" fill="#8fa7a3"/>
<path d="M62,48 L92,0 L112,0 L70,60 L48,92 L40,88Z" fill="#c49a50" opacity=".85"/>
<rect x="14" y="0" width="12" height="97" fill="#b5904a"/>
<path d="M0,55 L12,75 L6,100 L0,105Z" fill="#3f6a3a"/>
<path d="M46,107 L86,107 L69,145 L26,145Z" fill="#7b8dac"/>
<path d="M104,102 L137,102 L142,134 L101,134Z" fill="#3f4aa8"/>
<path d="M154,105 L184,105 L217,145 L186,145Z" fill="#a5c42a"/>
<g filter="url(#b1)">
<path d="M53,32 L70,32 L72,67 L52,67Z" fill="#2ba4c4"/>
<path d="M51,67 H74 L71,120 H65 L62,80 L60,120 H54Z" fill="#2a2c3e"/>
<rect x="47" y="36" width="4" height="32" fill="#c9a488"/><rect x="73" y="36" width="4" height="32" fill="#c9a488"/>
<ellipse cx="59" cy="20" rx="7" ry="10" fill="#c9a888"/>
<path d="M104,37 L136,37 L131,70 L109,70Z" fill="#8e49a6"/>
<path d="M109,70 H131 L129,125 H122 L120,85 L118,125 H111Z" fill="#17181e"/>
<ellipse cx="120" cy="24" rx="8" ry="11" fill="#b49a82"/>
<path d="M159,42 L190,42 L192,74 L160,74Z" fill="#5b2c5c"/>
<path d="M162,75 H189 L187,107 H179 L175,88 L172,107 H164Z" fill="#d9704a"/>
<ellipse cx="179" cy="33" rx="7" ry="8" fill="#493632"/>
</g>
<rect x="2" y="3" width="47" height="24" fill="#7f7e6c" opacity=".92"/>
<text class="t" x="7" y="22" font-size="13" fill="#eee">0:45</text>
<rect x="2" y="29" width="47" height="8" fill="#8a8972"/><rect x="2" y="39" width="47" height="8" fill="#8a8972"/>
<rect x="131" y="14" width="84" height="38" fill="#8c8a72" opacity=".92"/>
<rect x="135" y="17" width="12" height="13" fill="#c19058"/>
<text class="t" x="151" y="23" font-size="6" fill="#d4d3c0">Rosemary Montgomery</text>
<path d="M151,30 Q180,25 195,33 L212,40" fill="none" stroke="#d9c43a" stroke-width="1.2"/>
<rect x="151" y="45" width="48" height="2" fill="#4f9fd8"/>
<rect x="2" y="126" width="47" height="14" fill="#888" opacity=".9"/>
<text class="t" x="11" y="136" font-size="5.5" fill="#ddd">Downward Dog</text>
</svg>

<!-- Leo missing -->
<rect x="2515" y="199" width="243" height="139" fill="#13507f"/>
<svg x="2520" y="204" width="233" height="129" viewBox="0 0 233 129">
<rect width="233" height="129" fill="#e3d9bc"/>
<rect width="233" height="16" fill="#c9a94a"/>
<path d="M133,0 H233 V31 L133,13Z" fill="#d9983c"/>
<rect x="0" y="10" width="48" height="40" fill="#a38c5a"/>
<rect x="48" y="13" width="85" height="37" fill="#e6dfc9"/>
<path d="M133,13 L233,31 V96 L153,56 L133,33Z" fill="#e3d9bc"/>
<path d="M0,40 H55 V100 L40,115 H0Z" fill="#5f5a52"/>
<rect x="18" y="60" width="22" height="50" fill="#4a453e"/>
<ellipse cx="22" cy="27" rx="22" ry="12" fill="#4d4038"/>
<rect x="0" y="110" width="60" height="19" fill="#50351f"/>
<path d="M55,100 L85,88 L150,88 L165,129 H60Z" fill="#6b3f1e"/>
<path d="M57,66 H90 V116 H70 L57,100Z" fill="#d9d6cc"/><rect x="62" y="72" width="22" height="24" fill="#4a4a48"/>
<path d="M140,86 L197,89 L233,129 H163Z" fill="#e9e5d9"/>
<path d="M85,50 H135 L145,70 L140,86 L100,95 L85,80Z" fill="#cdbb94"/>
<rect x="148" y="88" width="30" height="9" fill="#333"/>
<rect x="160" y="100" width="30" height="9" fill="#444"/>
<path d="M197,92 L233,114 V124 L200,100Z" fill="#bf7a3a"/>
<rect x="105" y="44" width="22" height="32" fill="#ededed"/><path d="M103,76 H122 L118,110 H110 L106,100Z" fill="#222"/>
<ellipse cx="113" cy="38" rx="7" ry="8" fill="#70523f"/>
<g fill="#444"><rect x="140" y="1" width="10" height="12"/><rect x="155" y="1" width="12" height="14"/><rect x="172" y="1" width="11" height="15"/><rect x="198" y="3" width="22" height="24"/></g>
<g fill="#d9c9a0"><rect x="143" y="5" width="4" height="5"/><rect x="158" y="5" width="6" height="7"/><rect x="175" y="5" width="5" height="8"/><rect x="203" y="8" width="12" height="13"/></g>
<use href="#play" x="117" y="60"/>
</svg>

<!-- Workout phone -->
<rect x="2782.5" y="69.5" width="123" height="260" rx="13" fill="#fff" stroke="#5ab3d8" stroke-width="1.6"/>
<circle cx="2845" cy="84" r="1.6" fill="#222"/>
<rect x="2788" y="102" width="111" height="194" fill="#fff" stroke="#aaa" stroke-width=".8"/>
<rect x="2788" y="102" width="56" height="11" fill="#8f8f8f"/><rect x="2844" y="102" width="55" height="11" fill="#ddd"/>
<rect x="2793" y="125" width="27" height="1.5" fill="#555"/>
<g font-family="Liberation Sans,sans-serif" font-size="5" fill="#666"><text x="2802" y="123">Today</text><text x="2834" y="123">This Week</text><text x="2868" y="123">This Month</text></g>
<g fill="#fff" stroke="#ccc" stroke-width=".7"><rect x="2793" y="135" width="49" height="47"/><rect x="2846" y="135" width="49" height="47"/><rect x="2793" y="185" width="102" height="47"/><rect x="2793" y="236" width="102" height="55"/></g>
<text class="t" x="2798" y="168" font-size="19" fill="#444" textLength="38" lengthAdjust="spacingAndGlyphs">45:21</text>
<text class="t" x="2857" y="168" font-size="19" fill="#444" textLength="26" lengthAdjust="spacingAndGlyphs">541</text>
<rect x="2797" y="173" width="41" height="2.5" fill="#ccc"/><rect x="2797" y="173" width="24" height="2.5" fill="#222"/>
<rect x="2849" y="173" width="43" height="2.5" fill="#ccc"/><rect x="2849" y="173" width="34" height="2.5" fill="#222"/>
<text class="t" x="2807" y="144" font-size="5" fill="#777">TIME</text><text class="t" x="2857" y="144" font-size="5" fill="#777">CALORIES</text>
<text class="t" x="2807" y="193" font-size="5" fill="#777">HEART RATE</text><text class="t" x="2807" y="244" font-size="5" fill="#777">BLOOD PRESSURE</text>
<path d="M2799,216 Q2812,206 2825,212 Q2845,215 2858,205 Q2870,207 2888,215" fill="none" stroke="#222" stroke-width="3"/>
<path d="M2798,258 H2891" stroke="#555" stroke-width="11" stroke-dasharray="1.5 1.5"/>
<text class="t" x="2822" y="285" font-size="14" fill="#444" textLength="43" lengthAdjust="spacingAndGlyphs">134/87</text>
<rect x="2812" y="276" width="7" height="6" fill="#333"/>

<!-- Meal phone -->
<rect x="2873.5" y="481.5" width="123" height="263" rx="13" fill="#fff" stroke="#5ab3d8" stroke-width="1.6"/>
<circle cx="2935" cy="497" r="1.6" fill="#222"/>
<rect x="2880" y="517" width="110" height="193" fill="#fff" stroke="#aaa" stroke-width=".8"/>
<rect x="2880" y="517" width="56" height="11" fill="#8f8f8f"/><rect x="2936" y="517" width="54" height="11" fill="#ddd"/>
<rect x="2888" y="544" width="94" height="155" fill="#fff" stroke="#ddd" stroke-width=".7"/>
<text class="t" x="2893" y="555" font-size="7" fill="#555">Northwest</text><text class="t" x="2893" y="563" font-size="7" fill="#555">Roasted Halibut</text>
<rect x="2893" y="566" width="28" height="3" fill="#333"/>
<rect x="2888" y="575" width="94" height="42" fill="#5f4a22"/>
<ellipse cx="2935" cy="596" rx="36" ry="15" fill="#b49a62" filter="url(#b1)"/>
<ellipse cx="2940" cy="590" rx="17" ry="7" fill="#eee2c8"/>
<rect x="2880" y="575" width="5" height="36" fill="#c9a44a"/>
<g fill="#666"><rect x="2893" y="622" width="35" height="1.3"/><rect x="2893" y="626" width="25" height="1.3"/><rect x="2893" y="630" width="50" height="1.3"/></g>
<rect x="2893" y="635" width="80" height=".7" fill="#bbb"/>
<g fill="#444"><rect x="2895" y="645" width="50" height="1.2"/><rect x="2895" y="651" width="45" height="1.2"/><rect x="2895" y="657" width="48" height="1.2"/><rect x="2895" y="662" width="55" height="1.2"/><rect x="2895" y="668" width="60" height="1.2"/><rect x="2895" y="673" width="40" height="1.2"/></g>
<rect x="2892" y="682" width="43" height="10" fill="#fff" stroke="#ddd" stroke-width=".6"/><rect x="2937" y="682" width="41" height="10" fill="#fff" stroke="#ddd" stroke-width=".6"/>
<rect x="2914" y="697" width="41" height="9" fill="#c9c9c9"/>

<!-- Leo talks with Gary -->
<rect x="3041" y="488" width="276" height="157" fill="#13507f"/>
<svg x="3046" y="493" width="266" height="147" viewBox="0 0 266 147">
<rect width="266" height="147" fill="#2a241e"/>
<rect x="0" y="0" width="62" height="90" fill="#e9e7e0"/>
<rect x="62" y="0" width="95" height="60" fill="#6d5a42"/>
<rect x="157" y="0" width="109" height="100" fill="#1e1b17"/>
<rect x="0" y="90" width="80" height="57" fill="#46352a"/>
<path d="M0,147 L4,90 L55,88 L90,110 L170,100 L180,147Z" fill="#8a2a24" filter="url(#b1)"/>
<rect x="165" y="100" width="60" height="25" fill="#7a2620" filter="url(#b1)"/>
<rect x="215" y="105" width="51" height="42" fill="#4d3e30" filter="url(#b3)"/>
<g filter="url(#b1)">
<path d="M60,140 L59,95 L80,65 L115,55 L135,90 L125,110 L150,140Z" fill="#4a7a4c"/>
<ellipse cx="114" cy="32" rx="17" ry="21" fill="#6a4630"/>
<path d="M99,14 Q114,4 129,14 L127,24 L101,24Z" fill="#38302a"/>
<rect x="80" y="128" width="95" height="19" fill="#7a8a9a"/>
<path d="M100,115 L165,105 L170,118 L112,135Z" fill="#c8c8c0"/>
</g>
<use href="#play" x="147" y="76"/>
</svg>

<!-- Leo's Summary -->
<rect x="3066" y="717" width="202" height="114" fill="#13507f"/>
<svg x="3071" y="722" width="192" height="104" viewBox="0 0 192 104">
<rect width="192" height="104" fill="#fff"/>
<rect width="192" height="5" fill="#2a6f9e"/>
<rect x="2" y="6" width="60" height="40" fill="#7d8a8e"/><ellipse cx="31" cy="24" rx="10" ry="13" fill="#6f4a35"/><path d="M14,46 L20,34 L44,34 L52,46Z" fill="#39393d"/>
<g fill="#8f8f8f"><rect x="78" y="38" width="3" height="13"/><rect x="84" y="41" width="3" height="10"/><rect x="90" y="44" width="3" height="7"/><rect x="102" y="41" width="3" height="10"/><rect x="108" y="35" width="3" height="16"/><rect x="114" y="30" width="3" height="21"/><rect x="120" y="30" width="3" height="21"/><rect x="126" y="28" width="3" height="23"/><rect x="132" y="40" width="3" height="11"/><rect x="138" y="44" width="3" height="7"/><rect x="144" y="38" width="3" height="13"/><rect x="150" y="33" width="3" height="18"/><rect x="156" y="38" width="3" height="13"/><rect x="162" y="30" width="3" height="21"/></g>
<g fill="#7dbd42"><rect x="78" y="27" width="3" height="8"/><rect x="114" y="22" width="3" height="8"/><rect x="120" y="22" width="3" height="8"/><rect x="126" y="16" width="3" height="12"/><rect x="150" y="28" width="3" height="5"/></g>
<rect x="68" y="30" width="100" height=".7" fill="#7dbd42"/>
<rect x="0" y="52" width="192" height="52" fill="#f3f6f8"/>
<rect x="30" y="54" width="52" height="48" fill="#fff"/><rect x="85" y="54" width="50" height="48" fill="#fff"/><rect x="140" y="54" width="50" height="48" fill="#fff"/>
<g fill="#62c3ec"><rect x="39" y="76" width="8" height="17"/><rect x="54" y="78" width="8" height="15"/><rect x="68" y="83" width="8" height="10"/></g>
<g fill="#dde7ec"><rect x="39" y="71" width="8" height="5"/><rect x="54" y="68" width="8" height="10"/><rect x="68" y="74" width="8" height="9"/></g>
<path d="M98,92 A13,13 0 1 1 122,92" fill="none" stroke="#7dbd42" stroke-width="2.5"/>
<text class="t" x="103" y="90" font-size="9" fill="#444">205</text>
<path d="M147,72 L158,66 L170,70 L182,60" fill="none" stroke="#e6c842" stroke-width="1.2"/>
<rect x="150" y="84" width="32" height="7" fill="#1f8a5c"/>
<rect x="7" y="56" width="18" height="8" fill="#fff" stroke="#2a6f9e" stroke-width=".8"/>
</svg>
<circle cx="3301" cy="797" r="1" fill="#7dbd42"/>

<!-- Gary / Henry Recap -->
<rect x="3218" y="92" width="159" height="247" fill="#13507f"/>
<svg x="3223" y="97" width="149" height="237" viewBox="0 0 149 237">
<rect width="149" height="237" fill="#b9c1cf"/>
<path d="M62,30 Q85,15 149,40 V70 L62,75Z" fill="#2f3426" filter="url(#b3)"/>
<rect x="0" y="70" width="149" height="85" fill="#8f8e8a"/>
<rect x="0" y="150" width="149" height="70" fill="#a7874e"/>
<rect x="0" y="218" width="149" height="19" fill="#b9b4a6"/>
<rect x="58" y="0" width="8" height="150" fill="#6a6258" opacity=".6"/>
<g filter="url(#b1)">
<path d="M62,237 L64,150 L72,85 L100,68 L130,82 L148,150 L140,190 L130,237Z" fill="#1f1f1d"/>
<path d="M70,237 V190 H128 V237Z" fill="#3a2620"/>
<rect x="88" y="72" width="20" height="18" fill="#b9b4a8"/>
<ellipse cx="99" cy="49" rx="15" ry="19" fill="#6f4c35"/>
<path d="M112,170 L140,165 L142,205 L118,212Z" fill="#2a2a2d"/>
</g>
<rect x="0" y="0" width="56" height="9" fill="#eee" opacity=".85"/>
<rect x="0" y="14" width="60" height="30" fill="#9a9a94" opacity=".6"/>
<path d="M8,28 L30,26 L55,34" fill="none" stroke="#fff" stroke-width="1"/>
<rect x="0" y="48" width="82" height="36" fill="#d5d5d2" opacity=".75"/>
<rect x="0" y="88" width="60" height="32" fill="#c9c9c6" opacity=".6"/>
<path d="M18,120 V114 L28,116 L34,108 L42,112 L50,100 L58,104 V120Z" fill="#333" opacity=".75"/>
<g stroke="#fff" fill="none" stroke-width=".8"><path d="M24,140 L30,130 L38,136 L48,126 V140Z"/></g>
</svg>

<!-- Community View -->
<rect x="3435" y="79" width="158" height="247" fill="#13507f"/>
<svg x="3440" y="84" width="148" height="237" viewBox="0 0 148 237">
<rect width="148" height="237" filter="url(#sat)"/>
<rect width="148" height="237" fill="#1c2221" opacity=".68"/>
<path d="M30,0 Q90,25 115,45 L148,60 V40 L120,25 Q90,5 70,0Z" fill="#14242e"/>
<g>
<use href="#rings" x="34" y="52" transform="translate(34,52) scale(1.1) translate(-34,-52)"/>
<use href="#rings" x="118" y="19" transform="translate(118,19) scale(.88) translate(-118,-19)"/>
<use href="#rings" x="119" y="85"/>
<use href="#rings" x="61" y="117" transform="translate(61,117) scale(1.1) translate(-61,-117)"/>
<use href="#rings" x="104" y="184" transform="translate(104,184) scale(.88) translate(-104,-184)"/>
<use href="#rings" x="29" y="209" transform="translate(29,209) scale(.88) translate(-29,-209)"/>
</g>
<g fill="none" stroke="#e8cc2c" stroke-width="6"><path d="M34,77 A25,25 0 0 0 59,52"/><path d="M34,62 A16,16 0 0 0 50,48" stroke-width="5"/><path d="M94,85 A25,25 0 0 1 119,60"/><path d="M36,117 A25,25 0 0 0 61,142"/><path d="M84,184 A20,20 0 0 1 124,184"/></g>
<path d="M104,204 A20,20 0 0 0 124,184" fill="none" stroke="#d8302a" stroke-width="6"/>
<path d="M122,38 A19,19 0 0 0 137,22" fill="none" stroke="#fff" stroke-width="6"/>
<g fill="#4f9fd8"><circle cx="72" cy="4" r="3.5"/><circle cx="144" cy="3" r="3.5"/><circle cx="72" cy="49" r="3.5"/><circle cx="14" cy="95" r="3.5"/><circle cx="127" cy="141" r="3.5"/><circle cx="18" cy="156" r="3.5"/><circle cx="71" cy="170" r="3.5"/><circle cx="66" cy="222" r="3.5"/><circle cx="139" cy="226" r="3.5"/></g>
</svg>

<!-- Care Recap phone -->
<rect x="3379.5" y="503.5" width="74" height="160" rx="10" fill="#fff" stroke="#5ab3d8" stroke-width="1.6"/>
<circle cx="3417" cy="513" r="1.1" fill="#222"/>
<rect x="3384" y="523" width="67" height="120" fill="#fff" stroke="#aaa" stroke-width=".7"/>
<rect x="3396" y="538" width="43" height="23" fill="#b9b9b9"/>
<path d="M3400,544 L3420,550 L3434,556" stroke="#fff" fill="none"/>
<rect x="3396" y="564" width="55" height="30" fill="#7c7c7c"/>
<path d="M3398,570 L3420,574 L3449,586 V594 H3398Z" fill="#bbb"/>
<rect x="3396" y="598" width="40" height="22" fill="#8a8a8a"/>
<path d="M3398,618 L3405,612 L3412,616 L3420,608 L3430,612 L3434,603 V620 H3398Z" fill="#ddd"/>
<rect x="3396" y="622" width="32" height="20" fill="#b5b5b5"/>
<g fill="#555"><circle cx="3390" cy="532" r="1.5"/><circle cx="3390" cy="550" r="1.5"/><circle cx="3390" cy="577" r="1.5"/><circle cx="3390" cy="608" r="1.5"/><circle cx="3390" cy="631" r="1.5"/></g>
</svg>
</body></html>
